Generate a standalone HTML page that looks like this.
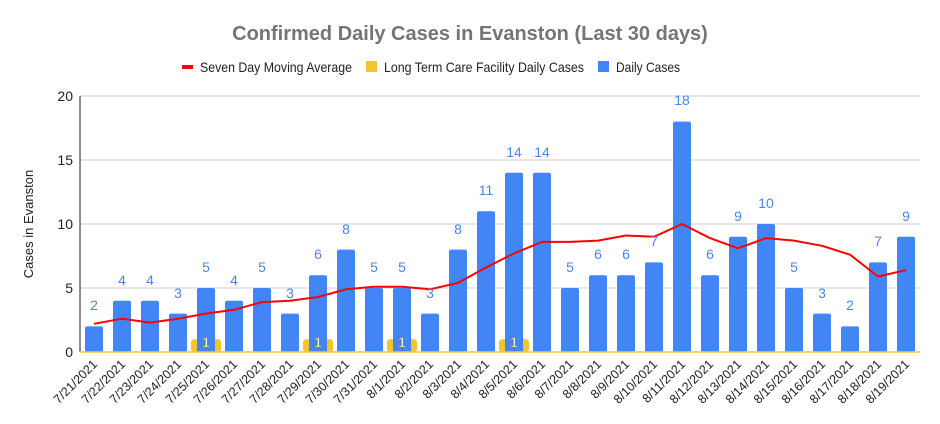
<!DOCTYPE html>
<html><head><meta charset="utf-8"><style>
body{margin:0;background:#fff;}
svg{display:block;font-family:"Liberation Sans",Arial,sans-serif;}
</style></head><body>
<svg width="940" height="424" viewBox="0 0 940 424" xmlns="http://www.w3.org/2000/svg">
<rect width="940" height="424" fill="#fff"/>
<text x="470" y="40" text-anchor="middle" font-size="20" font-weight="bold" fill="#757575">Confirmed Daily Cases in Evanston (Last 30 days)</text>
<g font-size="14" fill="#222">
<rect x="182" y="65" width="11" height="4" fill="#f00"/>
<text x="200" y="72" textLength="152" lengthAdjust="spacingAndGlyphs">Seven Day Moving Average</text>
<rect x="366" y="61" width="11" height="11" fill="#f4c430"/>
<text x="384" y="72" textLength="200" lengthAdjust="spacingAndGlyphs">Long Term Care Facility Daily Cases</text>
<rect x="598" y="61" width="11" height="11" fill="#4285f4"/>
<text x="616" y="72" textLength="64" lengthAdjust="spacingAndGlyphs">Daily Cases</text>
</g>
<g stroke="#ccc" stroke-width="1">
<line x1="80" y1="96" x2="920" y2="96"/><line x1="80" y1="160" x2="920" y2="160"/><line x1="80" y1="224" x2="920" y2="224"/><line x1="80" y1="288" x2="920" y2="288"/>
</g>
<g font-size="14" fill="#222" text-anchor="end">
<text x="73" y="101">20</text><text x="73" y="165">15</text><text x="73" y="229">10</text><text x="73" y="293">5</text><text x="73" y="357">0</text>
</g>
<text transform="translate(33,224) rotate(-90)" text-anchor="middle" font-size="13" fill="#222">Cases in Evanston</text>
<g fill="#f4c430">
<rect x="191" y="339.2" width="30" height="12.8" rx="3"/>
<rect x="303" y="339.2" width="30" height="12.8" rx="3"/>
<rect x="387" y="339.2" width="30" height="12.8" rx="3"/>
<rect x="499" y="339.2" width="30" height="12.8" rx="3"/>
</g>
<g fill="#4285f4">
<rect x="85" y="326.4" width="18" height="25.6" rx="2"/>
<rect x="113" y="300.8" width="18" height="51.2" rx="2"/>
<rect x="141" y="300.8" width="18" height="51.2" rx="2"/>
<rect x="169" y="313.6" width="18" height="38.4" rx="2"/>
<rect x="197" y="288" width="18" height="64" rx="2"/>
<rect x="225" y="300.8" width="18" height="51.2" rx="2"/>
<rect x="253" y="288" width="18" height="64" rx="2"/>
<rect x="281" y="313.6" width="18" height="38.4" rx="2"/>
<rect x="309" y="275.2" width="18" height="76.8" rx="2"/>
<rect x="337" y="249.6" width="18" height="102.4" rx="2"/>
<rect x="365" y="288" width="18" height="64" rx="2"/>
<rect x="393" y="288" width="18" height="64" rx="2"/>
<rect x="421" y="313.6" width="18" height="38.4" rx="2"/>
<rect x="449" y="249.6" width="18" height="102.4" rx="2"/>
<rect x="477" y="211.2" width="18" height="140.8" rx="2"/>
<rect x="505" y="172.8" width="18" height="179.2" rx="2"/>
<rect x="533" y="172.8" width="18" height="179.2" rx="2"/>
<rect x="561" y="288" width="18" height="64" rx="2"/>
<rect x="589" y="275.2" width="18" height="76.8" rx="2"/>
<rect x="617" y="275.2" width="18" height="76.8" rx="2"/>
<rect x="645" y="262.4" width="18" height="89.6" rx="2"/>
<rect x="673" y="121.6" width="18" height="230.4" rx="2"/>
<rect x="701" y="275.2" width="18" height="76.8" rx="2"/>
<rect x="729" y="236.8" width="18" height="115.2" rx="2"/>
<rect x="757" y="224" width="18" height="128" rx="2"/>
<rect x="785" y="288" width="18" height="64" rx="2"/>
<rect x="813" y="313.6" width="18" height="38.4" rx="2"/>
<rect x="841" y="326.4" width="18" height="25.6" rx="2"/>
<rect x="869" y="262.4" width="18" height="89.6" rx="2"/>
<rect x="897" y="236.8" width="18" height="115.2" rx="2"/>
</g>
<line x1="80" y1="96" x2="80" y2="352" stroke="#222" stroke-width="1"/>
<line x1="80" y1="352" x2="920" y2="352" stroke="#f4c430" stroke-width="1.5"/>
<polyline fill="none" stroke="#f00" stroke-width="2" stroke-linejoin="round" points="94,323.8 122,318.7 150,322.6 178,318.7 206,313.6 234,309.8 262,302.1 290,300.8 318,297 346,289.3 374,286.7 402,286.7 430,289.3 458,282.9 486,267.5 514,253.4 542,241.9 570,241.9 598,240.6 626,235.5 654,236.8 682,224 710,238.1 738,248.3 766,238.1 794,240.6 822,245.8 850,254.7 878,276.5 906,270.1"/>
<g font-size="14" fill="#4a86e8" text-anchor="middle">
<text x="94" y="310">2</text><text x="122" y="285">4</text><text x="150" y="285">4</text><text x="178" y="298">3</text><text x="206" y="272">5</text><text x="234" y="285">4</text><text x="262" y="272">5</text><text x="290" y="298">3</text><text x="318" y="259">6</text><text x="346" y="234">8</text><text x="374" y="272">5</text><text x="402" y="272">5</text><text x="430" y="298">3</text><text x="458" y="234">8</text><text x="486" y="195">11</text><text x="514" y="157">14</text><text x="542" y="157">14</text><text x="570" y="272">5</text><text x="598" y="259">6</text><text x="626" y="259">6</text><text x="654" y="246">7</text><text x="682" y="105">18</text><text x="710" y="259">6</text><text x="738" y="221">9</text><text x="766" y="208">10</text><text x="794" y="272">5</text><text x="822" y="298">3</text><text x="850" y="310">2</text><text x="878" y="246">7</text><text x="906" y="221">9</text>
</g>
<g font-size="14" font-weight="bold" fill="#fff" stroke="#a07c00" stroke-width="0.7" text-anchor="middle">
<text x="206" y="347">1</text><text x="318" y="347">1</text><text x="402" y="347">1</text><text x="514" y="347">1</text>
</g>
<g font-size="12.5" fill="#222" text-anchor="end">
<text transform="translate(98,365) rotate(-45)">7/21/2021</text>
<text transform="translate(126,365) rotate(-45)">7/22/2021</text>
<text transform="translate(154,365) rotate(-45)">7/23/2021</text>
<text transform="translate(182,365) rotate(-45)">7/24/2021</text>
<text transform="translate(210,365) rotate(-45)">7/25/2021</text>
<text transform="translate(238,365) rotate(-45)">7/26/2021</text>
<text transform="translate(266,365) rotate(-45)">7/27/2021</text>
<text transform="translate(294,365) rotate(-45)">7/28/2021</text>
<text transform="translate(322,365) rotate(-45)">7/29/2021</text>
<text transform="translate(350,365) rotate(-45)">7/30/2021</text>
<text transform="translate(378,365) rotate(-45)">7/31/2021</text>
<text transform="translate(406,365) rotate(-45)">8/1/2021</text>
<text transform="translate(434,365) rotate(-45)">8/2/2021</text>
<text transform="translate(462,365) rotate(-45)">8/3/2021</text>
<text transform="translate(490,365) rotate(-45)">8/4/2021</text>
<text transform="translate(518,365) rotate(-45)">8/5/2021</text>
<text transform="translate(546,365) rotate(-45)">8/6/2021</text>
<text transform="translate(574,365) rotate(-45)">8/7/2021</text>
<text transform="translate(602,365) rotate(-45)">8/8/2021</text>
<text transform="translate(630,365) rotate(-45)">8/9/2021</text>
<text transform="translate(658,365) rotate(-45)">8/10/2021</text>
<text transform="translate(686,365) rotate(-45)">8/11/2021</text>
<text transform="translate(714,365) rotate(-45)">8/12/2021</text>
<text transform="translate(742,365) rotate(-45)">8/13/2021</text>
<text transform="translate(770,365) rotate(-45)">8/14/2021</text>
<text transform="translate(798,365) rotate(-45)">8/15/2021</text>
<text transform="translate(826,365) rotate(-45)">8/16/2021</text>
<text transform="translate(854,365) rotate(-45)">8/17/2021</text>
<text transform="translate(882,365) rotate(-45)">8/18/2021</text>
<text transform="translate(910,365) rotate(-45)">8/19/2021</text>
</g>
</svg>
</body></html>
